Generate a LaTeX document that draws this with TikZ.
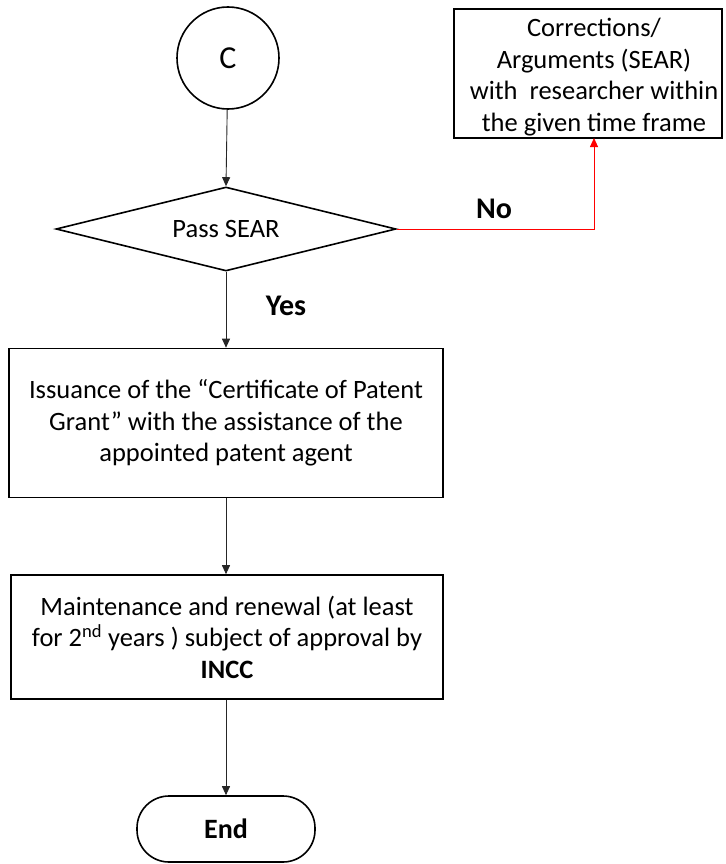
\documentclass[tikz,border=0pt]{standalone}
\usepackage{fontspec}
\setmainfont{Carlito}
\usetikzlibrary{shapes.geometric,arrows.meta}
\begin{document}
\begin{tikzpicture}[x=1pt,y=-1pt,
  txt/.style={font=\fontsize{26.5}{31.5}\selectfont, align=center},
  boxnode/.style={draw=black, line width=1.6pt, txt, inner sep=0pt},
  conn/.style={draw=black!85, line width=0.9pt, -{Triangle[length=9pt,width=8pt]}},
  redconn/.style={draw=red, line width=0.9pt, -{Triangle[length=9pt,width=8pt]}},
  lbl/.style={font=\fontsize{30}{32}\selectfont\bfseries}]
\useasboundingbox (0,0) rectangle (725,864);
\node[boxnode, circle, minimum size=102pt, font=\fontsize{32}{32}\selectfont] (c) at (228,58) {C};
\node[boxnode, diamond, minimum width=340pt, minimum height=84pt, aspect=4] (d) at (226,229) {Pass SEAR};
\node[boxnode, rectangle, minimum width=434pt, minimum height=149pt] (r1) at (226,423)
  {Issuance of the “Certificate of Patent\\Grant” with the assistance of the\\appointed patent agent};
\node[boxnode, rectangle, minimum width=432pt, minimum height=124pt] (r2) at (227,637)
  {Maintenance and renewal (at least\\for 2\textsuperscript{nd} years ) subject of approval by\\\textbf{INCC}};
\node[boxnode, rectangle, rounded corners=32pt, minimum width=178pt, minimum height=66pt] (e) at (226,829)
  {\fontsize{28}{30}\selectfont\bfseries End};
\node[boxnode, rectangle, minimum width=268pt, minimum height=129pt] (rb) at (588,73.5) {};
\node[txt, inner sep=0pt] (rbt) at (594,77)
  {Corrections/\\Arguments (SEAR)\\with \ researcher within\\the given time frame};
\coordinate (rbin) at (594,138);
\draw[conn] (c) -- (d.north);
\draw[conn] (d.south) -- (d.south |- r1.north);
\draw[conn] (r1.south -| d.south) -- (d.south |- r2.north);
\draw[conn] (r2.south -| d.south) -- (d.south |- e.north);
\draw[redconn] (d.east) -| (rbin);
\node[lbl] (yes) at (286,306) {Yes};
\node[lbl] (no) at (494,209) {No};
\end{tikzpicture}
\end{document}
